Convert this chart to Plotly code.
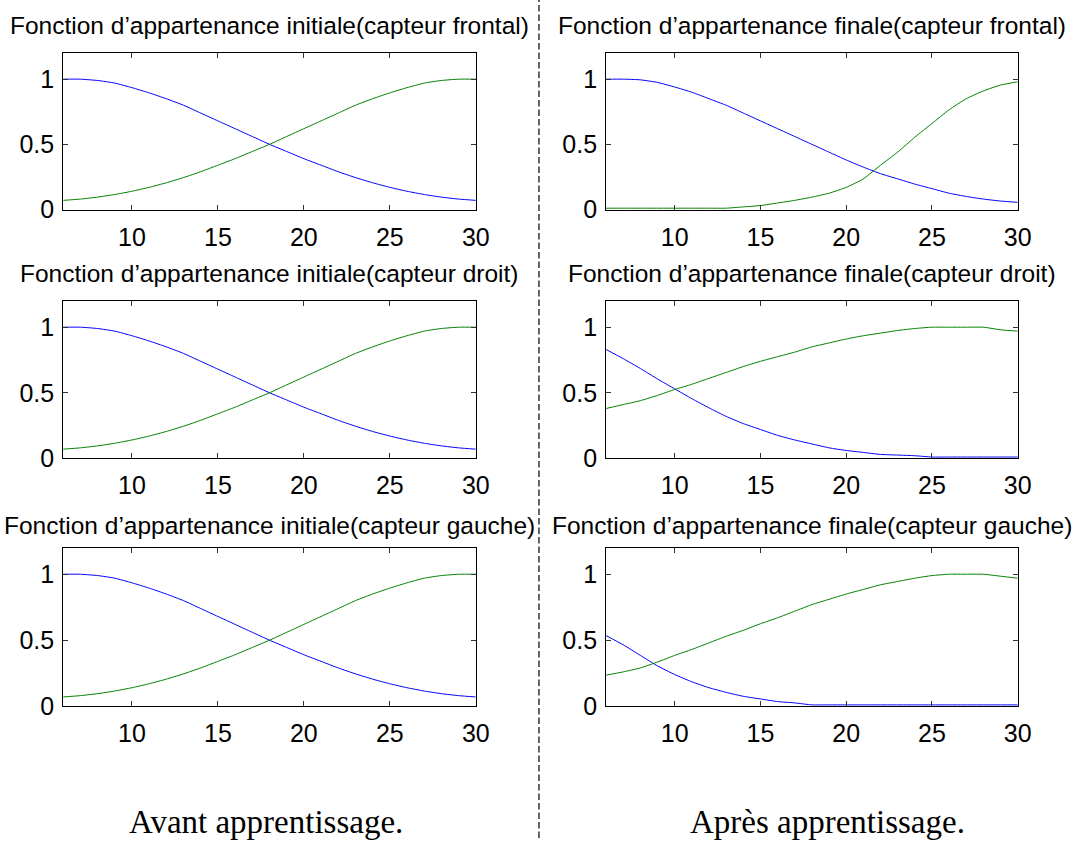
import plotly.graph_objects as go

# Distance axis (same sampling for every panel)
distance = list(range(6, 31))

# Initial membership functions (identical for the three sensors)
init_near = [1.0, 1.0, 0.99, 0.97, 0.935, 0.895, 0.85, 0.80, 0.74, 0.68, 0.62, 0.56, 0.50,
             0.445, 0.39, 0.34, 0.29, 0.245, 0.205, 0.17, 0.14, 0.115, 0.095, 0.08, 0.07]
init_far = [0.07, 0.08, 0.095, 0.115, 0.14, 0.17, 0.205, 0.245, 0.29, 0.34, 0.39, 0.445, 0.50,
            0.56, 0.62, 0.68, 0.74, 0.80, 0.85, 0.895, 0.935, 0.97, 0.99, 1.0, 1.0]

# Final membership functions after learning
front_near = [1.0, 1.0, 0.995, 0.975, 0.94, 0.90, 0.85, 0.80, 0.74, 0.68, 0.62, 0.56, 0.50,
              0.44, 0.38, 0.325, 0.275, 0.235, 0.195, 0.16, 0.125, 0.10, 0.08, 0.065, 0.055]
front_far = [0.01, 0.01, 0.01, 0.01, 0.01, 0.01, 0.01, 0.01, 0.02, 0.03, 0.05, 0.07, 0.095,
             0.125, 0.17, 0.235, 0.34, 0.44, 0.555, 0.66, 0.765, 0.85, 0.91, 0.955, 0.98]

right_near = [0.83, 0.76, 0.685, 0.605, 0.53, 0.455, 0.385, 0.32, 0.265, 0.22, 0.175, 0.14, 0.11,
              0.08, 0.06, 0.045, 0.03, 0.025, 0.02, 0.01, 0.01, 0.01, 0.01, 0.01, 0.01]
right_far = [0.38, 0.41, 0.44, 0.48, 0.525, 0.565, 0.61, 0.655, 0.70, 0.74, 0.775, 0.81, 0.85,
             0.88, 0.91, 0.935, 0.955, 0.975, 0.99, 1.0, 1.0, 1.0, 1.0, 0.98, 0.97]

left_near = [0.535, 0.465, 0.385, 0.305, 0.24, 0.185, 0.14, 0.105, 0.075, 0.055, 0.035, 0.025, 0.01,
             0.01, 0.01, 0.01, 0.01, 0.01, 0.01, 0.01, 0.01, 0.01, 0.01, 0.01, 0.01]
left_far = [0.235, 0.26, 0.29, 0.335, 0.385, 0.43, 0.48, 0.53, 0.575, 0.625, 0.67, 0.72, 0.77,
            0.81, 0.85, 0.885, 0.92, 0.945, 0.97, 0.99, 1.0, 1.0, 1.0, 0.985, 0.97]

titles = [
    "Fonction d’appartenance initiale(capteur frontal)",
    "Fonction d’appartenance finale(capteur frontal)",
    "Fonction d’appartenance initiale(capteur droit)",
    "Fonction d’appartenance finale(capteur droit)",
    "Fonction d’appartenance initiale(capteur gauche)",
    "Fonction d’appartenance finale(capteur gauche)",
]
panels = [
    (init_near, init_far), (front_near, front_far),
    (init_near, init_far), (right_near, right_far),
    (init_near, init_far), (left_near, left_far),
]
captions = ["Avant apprentissage.", "Après apprentissage."]

x_ticks = [10, 15, 20, 25, 30]
y_ticks = [0, 0.5, 1]
y_tick_text = ["0", "0.5", "1"]

W, H = 1087, 852
col_px = [(64, 482), (614, 1031)]
row_px = [(54, 213), (306, 466), (557, 718)]
title_y_px = [26, 278, 534]

SANS = "Liberation Sans, Arial, sans-serif"
SERIF = "Liberation Serif, Times New Roman, serif"

fig = go.Figure()
layout = {}
annotations = []

for i, (near, far) in enumerate(panels):
    r, c = divmod(i, 2)
    n = i + 1
    xa = "x" if n == 1 else f"x{n}"
    ya = "y" if n == 1 else f"y{n}"
    fig.add_trace(go.Scatter(x=distance, y=near, mode="lines", xaxis=xa, yaxis=ya,
                             line=dict(color="#0000ff", width=1, shape="spline", smoothing=0.5),
                             showlegend=False, hoverinfo="skip"))
    fig.add_trace(go.Scatter(x=distance, y=far, mode="lines", xaxis=xa, yaxis=ya,
                             line=dict(color="#008000", width=1, shape="spline", smoothing=0.5),
                             showlegend=False, hoverinfo="skip"))
    x0, x1 = col_px[c]
    y0, y1 = row_px[r]
    axis_common = dict(showline=True, linecolor="black", linewidth=1, mirror="ticks",
                       ticks="inside", ticklen=5, tickcolor="#333333", showgrid=False,
                       zeroline=False, tickfont=dict(family=SANS, size=25, color="black"))
    layout["xaxis" if n == 1 else f"xaxis{n}"] = dict(
        domain=[x0 / W, x1 / W], range=[6, 30], anchor=ya, tickvals=x_ticks,
        ticklabelstandoff=5, **axis_common)
    layout["yaxis" if n == 1 else f"yaxis{n}"] = dict(
        domain=[1 - y1 / H, 1 - y0 / H], range=[0, 1.2], anchor=xa, tickvals=y_ticks,
        ticktext=y_tick_text, ticklabelstandoff=3, **axis_common)
    annotations.append(dict(text=titles[i], xref="paper", yref="paper",
                            x=(x0 + x1) / 2 / W, y=1 - title_y_px[r] / H,
                            xanchor="center", yanchor="middle", showarrow=False,
                            font=dict(family=SANS, size=24.5, color="black")))

for c, text in enumerate(captions):
    cx = [269, 838][c]
    annotations.append(dict(text=text, xref="paper", yref="paper", x=cx / W, y=1 - 836 / H,
                            xanchor="center", yanchor="middle", showarrow=False,
                            font=dict(family=SERIF, size=33, color="black")))

fig.update_layout(
    width=W, height=H, margin=dict(l=0, r=0, t=0, b=0),
    paper_bgcolor="white", plot_bgcolor="white",
    annotations=annotations,
    shapes=[dict(type="line", xref="paper", yref="paper", x0=546 / W, x1=546 / W, y0=0, y1=1,
                 line=dict(color="#333333", width=1.5, dash="6.5px,3px"))],
    **layout,
)

fig.write_html("out.html")
